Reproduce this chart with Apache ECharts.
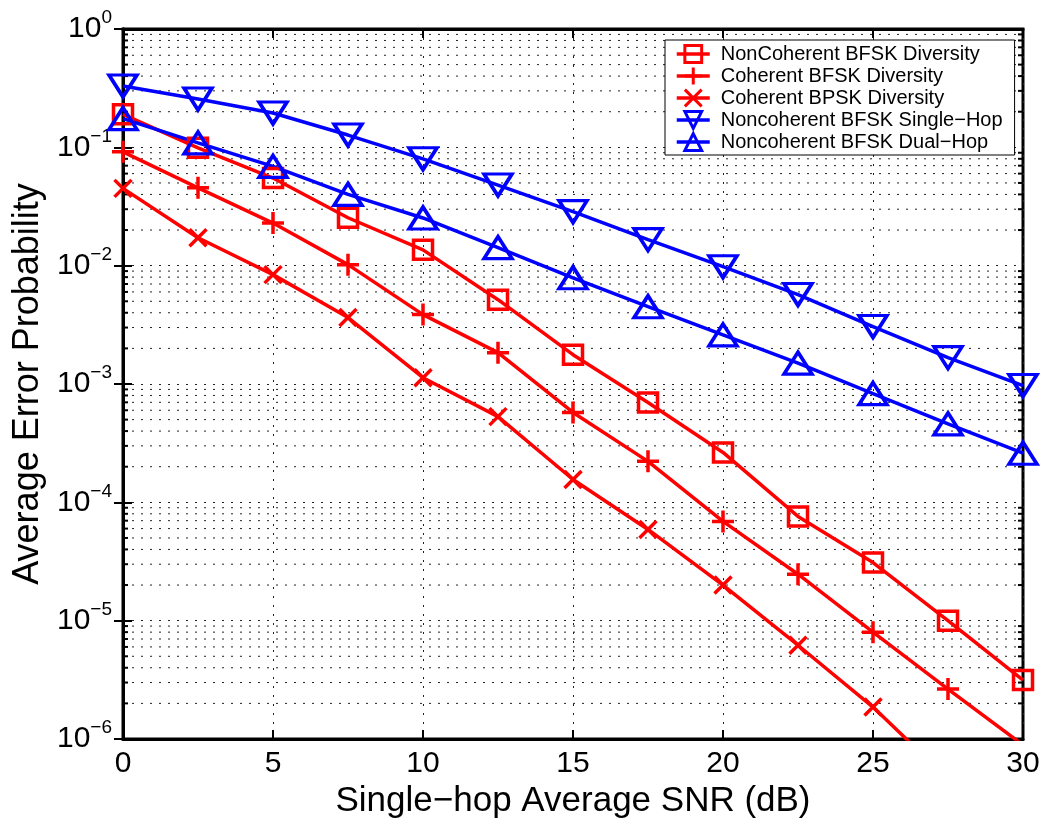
<!DOCTYPE html>
<html>
<head>
<meta charset="utf-8">
<script src="https://cdn.jsdelivr.net/npm/echarts@6/dist/echarts.min.js"></script>
<style>
html,body{margin:0;padding:0;background:#fff;}
#chart{width:1047px;height:824px;}
</style>
</head>
<body>
<div id="chart"></div>
<script>
// ---- data ----
var snr = [0, 2.5, 5, 7.5, 10, 12.5, 15, 17.5, 20, 22.5, 25, 27.5, 30];
var nonCohBFSKDiv = [0.19, 0.099, 0.055, 0.0254, 0.0136, 0.00516, 0.00177, 6.98e-4, 2.64e-4, 7.6e-5, 3.1e-5, 1.0e-5, 3.15e-6];
var cohBFSKDiv = [0.0916, 0.0455, 0.0229, 0.0102, 0.00386, 0.00184, 5.75e-4, 2.22e-4, 6.9e-5, 2.47e-5, 8.0e-6, 2.64e-6, 8.9e-7];
var cohBPSKDiv = [0.045, 0.0172, 0.0084, 0.00364, 0.00113, 5.3e-4, 1.56e-4, 5.9e-5, 2.0e-5, 6.2e-6, 1.86e-6, 4.6e-7, 1.3e-7];
var nonCohSingle = [0.33, 0.256, 0.195, 0.127, 0.080, 0.048, 0.0286, 0.0166, 0.0098, 0.0057, 0.00306, 0.00167, 9.7e-4];
var nonCohDual = [0.175, 0.109, 0.069, 0.040, 0.0253, 0.0142, 0.0079, 0.0045, 0.0026, 0.0015, 8.3e-4, 4.6e-4, 2.6e-4];
var seriesNames = ['NonCoherent BFSK Diversity', 'Coherent BFSK Diversity', 'Coherent BPSK Diversity',
                   'Noncoherent BFSK Single\u2212Hop', 'Noncoherent BFSK Dual\u2212Hop'];
var xTicks = [0, 5, 10, 15, 20, 25, 30];
var minorVals = [];
for (var e = -6; e < 0; e++) { for (var m = 2; m <= 9; m++) { minorVals.push(Number((m * Math.pow(10, e)).toPrecision(3))); } }

function pairs(ys) { return snr.map(function (x, i) { return [x, ys[i]]; }); }

var RED = '#ff0000', BLUE = '#0000ff';
var PLUS = 'path://M0,5L10,5M5,0L5,10';
var CROSS = 'path://M0,0L10,10M10,0L0,10';

function lineSeries(name, ys, color, symbol, size, rotate) {
  return {
    name: name, type: 'line', data: pairs(ys),
    symbol: symbol, symbolSize: size, symbolRotate: rotate || 0, showAllSymbol: true,
    lineStyle: { color: color, width: 3.5 },
    itemStyle: { color: 'rgba(0,0,0,0)', borderColor: color, borderWidth: 3.5 },
    emphasis: { disabled: true }, z: 3, clip: true, animation: false
  };
}

function expLabel(value) {
  var ex = Math.round(Math.log10(value));
  var s = ex < 0 ? '\u2212' + (-ex) : String(ex);
  return '{b|10}{s|' + s + '}';
}

var gridDash = [2, 7];
var chart = echarts.init(document.getElementById('chart'), null, { renderer: 'canvas' });
chart.setOption({
  animation: false,
  backgroundColor: '#fff',
  textStyle: { fontFamily: 'Liberation Sans, Arial, sans-serif' },
  grid: { left: 123, right: 24, top: 29, bottom: 85, show: true, borderColor: '#000', borderWidth: 3, backgroundColor: '#fff' },
  legend: {
    data: seriesNames, orient: 'vertical', left: 665, top: 40,
    padding: [4, 12, 3, 10], itemWidth: 33, itemHeight: 21, itemGap: 2,
    backgroundColor: '#fff', borderColor: '#000', borderWidth: 1,
    lineStyle: { width: 3.5 },
    itemStyle: { borderWidth: 3 },
    textStyle: { fontSize: 20, color: '#000', fontFamily: 'Liberation Sans, Arial, sans-serif', padding: [0, 0, 0, 6] },
    selectedMode: false
  },
  xAxis: [{
    type: 'value', min: 0, max: 30, interval: 5, position: 'bottom',
    name: 'Single\u2212hop Average SNR (dB)', nameLocation: 'middle', nameGap: 40,
    nameTextStyle: { fontSize: 35, color: '#000' },
    axisLine: { show: true, lineStyle: { color: '#000', width: 3 } },
    axisTick: { show: true, inside: true, length: 9, lineStyle: { color: '#000', width: 2 } },
    axisLabel: { fontSize: 30, color: '#000', margin: 10 },
    splitLine: { show: true, lineStyle: { color: '#222', width: 1, type: gridDash } }
  }, {
    type: 'value', min: 0, max: 30, interval: 5, position: 'top',
    axisLine: { show: true, lineStyle: { color: '#000', width: 3 } },
    axisTick: { show: true, inside: true, length: 9, lineStyle: { color: '#000', width: 2 } },
    axisLabel: { show: false }, splitLine: { show: false }
  }],
  yAxis: [{
    type: 'log', logBase: 10, min: 1e-6, max: 1, interval: 1, position: 'left',
    name: 'Average Error Probability', nameLocation: 'middle', nameGap: 72,
    nameTextStyle: { fontSize: 36, color: '#000' },
    axisLine: { show: true, lineStyle: { color: '#000', width: 3 } },
    axisTick: { show: true, inside: true, length: 9, lineStyle: { color: '#000', width: 2 } },
    axisLabel: {
      color: '#000', margin: 11, formatter: expLabel,
      rich: { b: { fontSize: 30, color: '#000' }, s: { fontSize: 19, color: '#000', padding: [0, 0, 22, 0] } }
    },
    splitLine: { show: true, lineStyle: { color: '#222', width: 1, type: gridDash } }
  }, {
    type: 'log', logBase: 10, min: 1e-6, max: 1, interval: 1, position: 'right',
    axisLine: { show: true, lineStyle: { color: '#000', width: 3 } },
    axisTick: { show: true, inside: true, length: 9, lineStyle: { color: '#000', width: 2 } },
    axisLabel: { show: false }, splitLine: { show: false }
  }],
  series: [
    {
      name: 'minorGrid', type: 'custom', silent: true, z: 1,
      data: minorVals.map(function (v) { return [0, v]; }),
      renderItem: function (params, api) {
        var v = api.value(1);
        var a = api.coord([0, v]);
        var b = api.coord([30, v]);
        return {
          type: 'group', children: [
            { type: 'line', shape: { x1: a[0], y1: a[1], x2: b[0], y2: b[1] }, style: { stroke: '#222', lineWidth: 1, lineDash: gridDash } },
            { type: 'line', shape: { x1: a[0], y1: a[1], x2: a[0] + 5, y2: a[1] }, style: { stroke: '#000', lineWidth: 2 } },
            { type: 'line', shape: { x1: b[0] - 5, y1: b[1], x2: b[0], y2: b[1] }, style: { stroke: '#000', lineWidth: 2 } }
          ]
        };
      }
    },
    lineSeries(seriesNames[0], nonCohBFSKDiv, RED, 'rect', 19),
    lineSeries(seriesNames[1], cohBFSKDiv, RED, PLUS, 22),
    lineSeries(seriesNames[2], cohBPSKDiv, RED, CROSS, 17),
    lineSeries(seriesNames[3], nonCohSingle, BLUE, 'triangle', [28, 22], 180),
    lineSeries(seriesNames[4], nonCohDual, BLUE, 'triangle', [28, 22])
  ]
});
</script>
</body>
</html>
